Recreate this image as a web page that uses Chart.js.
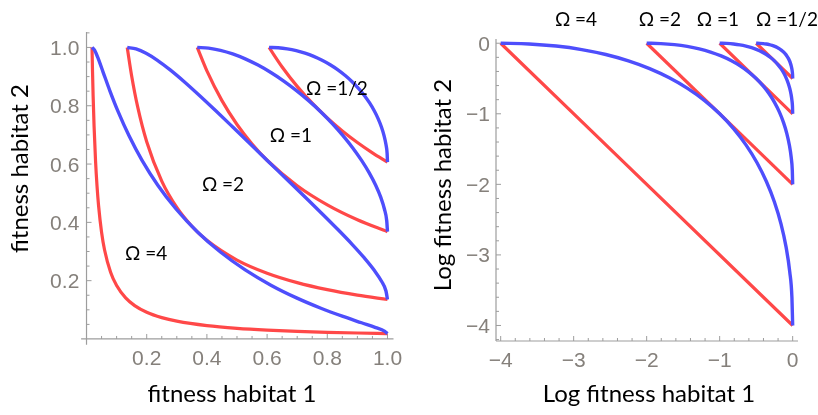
<!DOCTYPE html>
<html>
<head>
<meta charset="utf-8">
<script src="https://cdn.jsdelivr.net/npm/chart.js@4.4.0/dist/chart.umd.min.js"></script>
<style>
    body { margin: 0; background: #fff; width: 818px; height: 415px; overflow: hidden; position: relative; }
    canvas { position: absolute; top: 0; }
</style>
</head>
<body>
<canvas id="fit" width="409" height="415" style="left:0"></canvas>
<canvas id="logfit" width="409" height="415" style="left:409px"></canvas>
<script>
// Ticks and labels
const fitTicks = [0.2, 0.4, 0.6, 0.8, 1.0];
const fitTickLabels = ['0.2', '0.4', '0.6', '0.8', '1.0'];
const logTicks = [-4, -3, -2, -1, 0];
const logTickLabels = ['\u22124', '\u22123', '\u22122', '\u22121', '0'];
const omegaLabels = ['Ω =4', 'Ω =2', 'Ω =1', 'Ω =1/2'];

// where the Ω labels sit (data coordinates, text baseline)
const fitLabelX = [0.198, 0.4535, 0.679, 0.832];
const fitLabelY = [0.271, 0.506, 0.677, 0.837];
const logLabelX = [-2.968, -1.818, -1.023, -0.078];
const logLabelY = [0.245, 0.245, 0.245, 0.245];

// Left panel: fitness habitat 1 vs fitness habitat 2
const blue4X = [0.0183, 0.0271, 0.0392, 0.0556, 0.0773, 0.1054, 0.1409, 0.1845, 0.2369, 0.2982, 0.3679, 0.4449, 0.5273, 0.6126, 0.6977, 0.7788, 0.8521, 0.9139, 0.9608, 0.9900, 1];
const blue4Y = [1, 0.9900, 0.9608, 0.9139, 0.8521, 0.7788, 0.6977, 0.6126, 0.5273, 0.4449, 0.3679, 0.2982, 0.2369, 0.1845, 0.1409, 0.1054, 0.0773, 0.0556, 0.0392, 0.0271, 0.0183];
const blue2X = [0.1353, 0.1645, 0.1979, 0.2357, 0.2780, 0.3247, 0.3753, 0.4296, 0.4868, 0.5461, 0.6065, 0.6670, 0.7261, 0.7827, 0.8353, 0.8825, 0.9231, 0.9560, 0.9802, 0.9950, 1];
const blue2Y = [1, 0.9950, 0.9802, 0.9560, 0.9231, 0.8825, 0.8353, 0.7827, 0.7261, 0.6670, 0.6065, 0.5461, 0.4868, 0.4296, 0.3753, 0.3247, 0.2780, 0.2357, 0.1979, 0.1645, 0.1353];
const blue1X = [0.3679, 0.4056, 0.4449, 0.4856, 0.5273, 0.5698, 0.6126, 0.6554, 0.6977, 0.7390, 0.7788, 0.8167, 0.8521, 0.8847, 0.9139, 0.9394, 0.9608, 0.9778, 0.9900, 0.9975, 1];
const blue1Y = [1, 0.9975, 0.9900, 0.9778, 0.9608, 0.9394, 0.9139, 0.8847, 0.8521, 0.8167, 0.7788, 0.7390, 0.6977, 0.6554, 0.6126, 0.5698, 0.5273, 0.4856, 0.4449, 0.4056, 0.3679];
const blueHalfX = [0.6065, 0.6368, 0.6670, 0.6968, 0.7261, 0.7549, 0.7827, 0.8096, 0.8353, 0.8596, 0.8825, 0.9037, 0.9231, 0.9406, 0.9560, 0.9692, 0.9802, 0.9888, 0.9950, 0.9988, 1];
const blueHalfY = [1, 0.9988, 0.9950, 0.9888, 0.9802, 0.9692, 0.9560, 0.9406, 0.9231, 0.9037, 0.8825, 0.8596, 0.8353, 0.8096, 0.7827, 0.7549, 0.7261, 0.6968, 0.6670, 0.6368, 0.6065];

const red4X = [0.0183, 0.02, 0.022, 0.025, 0.03, 0.035, 0.04, 0.05, 0.06, 0.08, 0.1, 0.13, 0.16, 0.2, 0.25, 0.3, 0.4, 0.5, 0.6, 0.7, 0.8, 0.9, 1];
const red4Y = [1, 0.9158, 0.8326, 0.7326, 0.6105, 0.5233, 0.4579, 0.3663, 0.3053, 0.2290, 0.1832, 0.1409, 0.1145, 0.0916, 0.0733, 0.0611, 0.0458, 0.0366, 0.0305, 0.0262, 0.0229, 0.0204, 0.0183];
const red2X = [0.1353, 0.15, 0.17, 0.2, 0.25, 0.3, 0.35, 0.4, 0.5, 0.6, 0.7, 0.8, 0.9, 1];
const red2Y = [1, 0.9023, 0.7961, 0.6767, 0.5413, 0.4511, 0.3867, 0.3383, 0.2707, 0.2256, 0.1933, 0.1692, 0.1504, 0.1353];
const red1X = [0.3679, 0.4, 0.45, 0.5, 0.55, 0.6, 0.7, 0.8, 0.9, 1];
const red1Y = [1, 0.9197, 0.8175, 0.7358, 0.6689, 0.6131, 0.5255, 0.4599, 0.4088, 0.3679];
const redHalfX = [0.6065, 0.65, 0.7, 0.75, 0.8, 0.85, 0.9, 0.95, 1];
const redHalfY = [1, 0.9331, 0.8665, 0.8087, 0.7582, 0.7136, 0.6739, 0.6385, 0.6065];

// Right panel: log fitness
const logBlue4X = [-4, -3.61, -3.24, -2.89, -2.56, -2.25, -1.96, -1.69, -1.44, -1.21, -1, -0.81, -0.64, -0.49, -0.36, -0.25, -0.16, -0.09, -0.04, -0.01, 0];
const logBlue4Y = [0, -0.01, -0.04, -0.09, -0.16, -0.25, -0.36, -0.49, -0.64, -0.81, -1, -1.21, -1.44, -1.69, -1.96, -2.25, -2.56, -2.89, -3.24, -3.61, -4];
const logBlue2X = [-2, -1.805, -1.62, -1.445, -1.28, -1.125, -0.98, -0.845, -0.72, -0.605, -0.5, -0.405, -0.32, -0.245, -0.18, -0.125, -0.08, -0.045, -0.02, -0.005, 0];
const logBlue2Y = [0, -0.005, -0.02, -0.045, -0.08, -0.125, -0.18, -0.245, -0.32, -0.405, -0.5, -0.605, -0.72, -0.845, -0.98, -1.125, -1.28, -1.445, -1.62, -1.805, -2];
const logBlue1X = [-1, -0.9025, -0.81, -0.7225, -0.64, -0.5625, -0.49, -0.4225, -0.36, -0.3025, -0.25, -0.2025, -0.16, -0.1225, -0.09, -0.0625, -0.04, -0.0225, -0.01, -0.0025, 0];
const logBlue1Y = [0, -0.0025, -0.01, -0.0225, -0.04, -0.0625, -0.09, -0.1225, -0.16, -0.2025, -0.25, -0.3025, -0.36, -0.4225, -0.49, -0.5625, -0.64, -0.7225, -0.81, -0.9025, -1];
const logBlueHalfX = [-0.5, -0.4513, -0.405, -0.3613, -0.32, -0.2813, -0.245, -0.2113, -0.18, -0.1513, -0.125, -0.1013, -0.08, -0.0613, -0.045, -0.0313, -0.02, -0.0113, -0.005, -0.0013, 0];
const logBlueHalfY = [0, -0.0013, -0.005, -0.0113, -0.02, -0.0313, -0.045, -0.0613, -0.08, -0.1013, -0.125, -0.1513, -0.18, -0.2113, -0.245, -0.2813, -0.32, -0.3613, -0.405, -0.4513, -0.5];

const logRed4X = [-4, 0], logRed4Y = [0, -4];
const logRed2X = [-2, 0], logRed2Y = [0, -2];
const logRed1X = [-1, 0], logRed1Y = [0, -1];
const logRedHalfX = [-0.5, 0], logRedHalfY = [0, -0.5];

const BLUE = 'rgb(78, 78, 252)';
const RED = 'rgb(255, 72, 72)';
const LABEL_GRAY = '#85807b';
const AXIS_GRAY = '#9d9d9d';

function curve(xs, ys, color, width) {
    return {
        data: xs.map((x, i) => ({ x: x, y: ys[i] })),
        borderColor: color,
        borderWidth: width,
        pointRadius: 0,
        fill: false,
        cubicInterpolationMode: 'monotone',
        clip: false
    };
}

// axes drawn Mathematica-style: lines through an origin, ticks pointing inward
const frame = {
    id: 'frame',
    beforeDatasetsDraw(chart, args, o) {
        const ctx = chart.ctx, area = chart.chartArea;
        const xs = chart.scales.x, ys = chart.scales.y;
        const x0 = xs.getPixelForValue(o.originX);
        const y0 = ys.getPixelForValue(o.originY);
        ctx.save();
        ctx.strokeStyle = AXIS_GRAY;
        ctx.lineWidth = 1.2;
        ctx.beginPath();
        ctx.moveTo(area.left, y0); ctx.lineTo(area.right, y0);
        ctx.moveTo(x0, area.top); ctx.lineTo(x0, area.bottom);
        ctx.stroke();

        ctx.lineWidth = 1;
        ctx.beginPath();
        const isMajor = (v, majors) => majors.some(m => Math.abs(m - v) < 1e-6);
        for (let v = o.minorStart; v <= o.minorEnd + 1e-9; v += o.minorStep) {
            const px = xs.getPixelForValue(v);
            if (px < area.left || px > area.right || Math.abs(v - o.originX) < 1e-6) continue;
            const len = isMajor(v, o.ticks) ? 5 : 3;
            ctx.moveTo(px, y0); ctx.lineTo(px, y0 - len);
        }
        for (let v = o.minorStart; v <= o.minorEnd + 1e-9; v += o.minorStep) {
            const py = ys.getPixelForValue(v);
            if (py < area.top || py > area.bottom || Math.abs(v - o.originY) < 1e-6) continue;
            const len = isMajor(v, o.ticks) ? 5 : 3;
            ctx.moveTo(x0, py); ctx.lineTo(x0 + len, py);
        }
        ctx.stroke();
        ctx.restore();
    },
    afterDraw(chart, args, o) {
        const ctx = chart.ctx;
        const xs = chart.scales.x, ys = chart.scales.y;
        const x0 = xs.getPixelForValue(o.originX);
        const y0 = ys.getPixelForValue(o.originY);
        ctx.save();
        ctx.fillStyle = LABEL_GRAY;
        ctx.font = '21px "Liberation Sans", Arial, sans-serif';
        ctx.textBaseline = 'alphabetic';
        ctx.textAlign = 'center';
        o.ticks.forEach((v, i) => {
            ctx.fillText(o.tickLabels[i], xs.getPixelForValue(v), y0 + o.xLabelGap);
        });
        ctx.textAlign = 'right';
        o.ticks.forEach((v, i) => {
            ctx.fillText(o.tickLabels[i], x0 - o.yLabelGap, ys.getPixelForValue(v) + 7.5);
        });

        ctx.fillStyle = '#000';
        ctx.font = '19px Lato, "Open Sans", sans-serif';
        ctx.textAlign = 'center';
        o.labels.forEach((t, i) => {
            ctx.fillText(t, xs.getPixelForValue(o.labelX[i]), ys.getPixelForValue(o.labelY[i]));
        });

        ctx.font = '24px Lato, sans-serif';
        ctx.fillText(o.xTitle, o.xTitlePos[0], o.xTitlePos[1]);
        ctx.translate(o.yTitlePos[0], o.yTitlePos[1]);
        ctx.rotate(-Math.PI / 2);
        ctx.fillText(o.yTitle, 0, 0);
        ctx.restore();
    }
};

new Chart(document.getElementById('fit'), {
    type: 'line',
    data: {
        datasets: [
            curve(blue4X, blue4Y, BLUE, 3.4),
            curve(blue2X, blue2Y, BLUE, 3.4),
            curve(blue1X, blue1Y, BLUE, 3.4),
            curve(blueHalfX, blueHalfY, BLUE, 3.4),
            curve(red4X, red4Y, RED, 3.2),
            curve(red2X, red2Y, RED, 3.2),
            curve(red1X, red1Y, RED, 3.2),
            curve(redHalfX, redHalfY, RED, 3.2)
        ]
    },
    options: {
        responsive: false,
        animation: false,
        devicePixelRatio: 1,
        layout: { padding: { left: 81.1, right: 15.5, top: 32, bottom: 70.2 } },
        scales: {
            x: { type: 'linear', display: false, min: -0.018, max: 1.02 },
            y: { type: 'linear', display: false, min: -0.02, max: 1.053 }
        },
        plugins: {
            legend: { display: false },
            tooltip: { enabled: false },
            frame: {
                originX: 0, originY: 0,
                ticks: fitTicks, tickLabels: fitTickLabels,
                minorStart: 0, minorEnd: 1.05, minorStep: 0.05,
                xLabelGap: 26.5, yLabelGap: 7.2,
                labels: omegaLabels, labelX: fitLabelX, labelY: fitLabelY,
                xTitle: 'fitness habitat 1', xTitlePos: [232, 402],
                yTitle: 'fitness habitat 2', yTitlePos: [28, 168.5]
            }
        }
    },
    plugins: [frame]
});

new Chart(document.getElementById('logfit'), {
    type: 'line',
    data: {
        datasets: [
            curve(logBlue4X, logBlue4Y, BLUE, 3.4),
            curve(logBlue2X, logBlue2Y, BLUE, 3.4),
            curve(logBlue1X, logBlue1Y, BLUE, 3.4),
            curve(logBlueHalfX, logBlueHalfY, BLUE, 3.4),
            curve(logRed4X, logRed4Y, RED, 3.2),
            curve(logRed2X, logRed2Y, RED, 3.2),
            curve(logRed1X, logRed1Y, RED, 3.2),
            curve(logRedHalfX, logRedHalfY, RED, 3.2)
        ]
    },
    options: {
        responsive: false,
        animation: false,
        devicePixelRatio: 1,
        layout: { padding: { left: 87, right: 20, top: 39, bottom: 74 } },
        scales: {
            x: { type: 'linear', display: false, min: -4.064, max: 0.073 },
            y: { type: 'linear', display: false, min: -4.22, max: 0.06 }
        },
        plugins: {
            legend: { display: false },
            tooltip: { enabled: false },
            frame: {
                originX: -4.064, originY: -4.22,
                ticks: logTicks, tickLabels: logTickLabels,
                minorStart: -4.2, minorEnd: 0, minorStep: 0.2,
                xLabelGap: 25.5, yLabelGap: 6,
                labels: omegaLabels, labelX: logLabelX, labelY: logLabelY,
                xTitle: 'Log fitness habitat 1', xTitlePos: [240, 402],
                yTitle: 'Log fitness habitat 2', yTitlePos: [42, 185]
            }
        }
    },
    plugins: [frame]
});
</script>
</body>
</html>
